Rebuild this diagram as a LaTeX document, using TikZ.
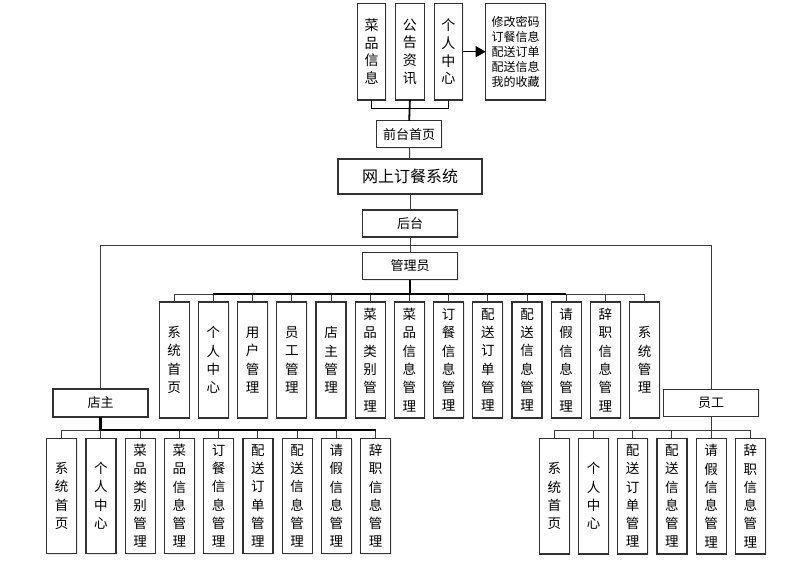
\documentclass[tikz,border=0pt]{standalone}
\usepackage{fontspec}
\newfontfamily\cjk{Noto Sans CJK SC}
\usetikzlibrary{arrows.meta,positioning,shadows}
\definecolor{ocBorder}{RGB}{ 50, 50, 50}
\definecolor{ocLine}  {RGB}{ 60, 60, 60}
\definecolor{ocDark}  {RGB}{  5,  5,  5}

\begin{document}
\begin{tikzpicture}[x=1pt,y=-1pt,
    every node/.style={font=\cjk},
    box/.style={rectangle,draw=ocBorder,line width=1.2pt,fill=white,
                inner sep=0pt,outer sep=0pt,align=center,
                drop shadow={opacity=0.15,shadow xshift=1.2pt,shadow yshift=-1.2pt}},
    vcell/.style={box,minimum width=30pt,minimum height=116pt,
                  font=\cjk\fontsize{13.5}{18.3}\selectfont},
    topcell/.style={vcell,minimum width=28.4pt,minimum height=96.7pt,
                  font=\cjk\fontsize{14}{17.7}\selectfont},
    hcell/.style={box,minimum width=95pt,minimum height=27pt,
                  font=\cjk\fontsize{13}{16}\selectfont},
    link/.style={draw=ocLine,line width=1pt},
    trunk/.style={draw=ocDark,line width=2.2pt},
    arr/.style={ocDark,line width=1.3pt,-{Triangle[length=10pt,width=11pt]}}
  ]
  \useasboundingbox (0,0) rectangle (806,562);
  % Front end
  \node[topcell] (cpxx) at (371.5,51.7) {菜\\品\\信\\息};
  \node[topcell,right=10pt of cpxx] (ggzx) {公\\告\\资\\讯};
  \node[topcell,right=10pt of ggzx] (grzx) {个\\人\\中\\心};
  \node[box,minimum width=60pt,minimum height=96.7pt,
        font=\cjk\fontsize{12}{15}\selectfont] (grzxsub) at (515.7,51.7)
        {修改密码\\订餐信息\\配送订单\\配送信息\\我的收藏};
  \node[hcell,minimum width=65pt] (qtsy) at (409.2,134.2) {前台首页};
  % System and back end
  \node[hcell,minimum width=144pt,minimum height=35pt,
        font=\cjk\fontsize{16}{18}\selectfont] (sys) at (410,176.5) {网上订餐系统};
  \node[hcell] (ht) at (410,223.5) {后台};
  \node[hcell] (gly) at (410,266) {管理员};
  \node[hcell,minimum height=28pt] (dz) at (100.5,403) {店主};
  \node[hcell] (yg) at (711,402.7) {员工};
  % Admin modules
  \node[vcell] (a1) at (174.2,360) {系\\统\\首\\页};
  \node[vcell,right=9.2pt of a1] (a2) {个\\人\\中\\心};
  \node[vcell,right=9.2pt of a2] (a3) {用\\户\\管\\理};
  \node[vcell,right=9.2pt of a3] (a4) {员\\工\\管\\理};
  \node[vcell,right=9.2pt of a4] (a5) {店\\主\\管\\理};
  \node[vcell,right=9.2pt of a5] (a6) {菜\\品\\类\\别\\管\\理};
  \node[vcell,right=9.2pt of a6] (a7) {菜\\品\\信\\息\\管\\理};
  \node[vcell,right=9.2pt of a7] (a8) {订\\餐\\信\\息\\管\\理};
  \node[vcell,right=9.2pt of a8] (a9) {配\\送\\订\\单\\管\\理};
  \node[vcell,right=9.2pt of a9] (a10) {配\\送\\信\\息\\管\\理};
  \node[vcell,right=9.2pt of a10] (a11) {请\\假\\信\\息\\管\\理};
  \node[vcell,right=9.2pt of a11] (a12) {辞\\职\\信\\息\\管\\理};
  \node[vcell,right=9.2pt of a12] (a13) {系\\统\\管\\理};
  % Shop owner modules
  \node[vcell,minimum height=115pt] (d1) at (61.7,495.8) {系\\统\\首\\页};
  \node[vcell,minimum height=115pt,right=9.25pt of d1] (d2) {个\\人\\中\\心};
  \node[vcell,minimum height=115pt,right=9.25pt of d2] (d3) {菜\\品\\类\\别\\管\\理};
  \node[vcell,minimum height=115pt,right=9.25pt of d3] (d4) {菜\\品\\信\\息\\管\\理};
  \node[vcell,minimum height=115pt,right=9.25pt of d4] (d5) {订\\餐\\信\\息\\管\\理};
  \node[vcell,minimum height=115pt,right=9.25pt of d5] (d6) {配\\送\\订\\单\\管\\理};
  \node[vcell,minimum height=115pt,right=9.25pt of d6] (d7) {配\\送\\信\\息\\管\\理};
  \node[vcell,minimum height=115pt,right=9.25pt of d7] (d8) {请\\假\\信\\息\\管\\理};
  \node[vcell,minimum height=115pt,right=9.25pt of d8] (d9) {辞\\职\\信\\息\\管\\理};
  % Staff modules
  \node[vcell,minimum height=115.7pt] (e1) at (554.3,496.1) {系\\统\\首\\页};
  \node[vcell,minimum height=115.7pt,right=9.2pt of e1] (e2) {个\\人\\中\\心};
  \node[vcell,minimum height=115.7pt,right=9.2pt of e2] (e3) {配\\送\\订\\单\\管\\理};
  \node[vcell,minimum height=115.7pt,right=9.2pt of e3] (e4) {配\\送\\信\\息\\管\\理};
  \node[vcell,minimum height=115.7pt,right=9.2pt of e4] (e5) {请\\假\\信\\息\\管\\理};
  \node[vcell,minimum height=115.7pt,right=9.2pt of e5] (e6) {辞\\职\\信\\息\\管\\理};
  % Front end links
  \draw[link,draw=ocDark] (qtsy.north) -- ++(0,-12.4) -| (cpxx.south);
  \draw[link,draw=ocDark] (qtsy.north) -- ++(0,-12.4) -| (grzx.south);
  \draw[trunk,line width=1.8pt] (qtsy.north) -- (ggzx.south);
  \draw[arr] (grzx) -- (grzxsub);
  \draw[link] (qtsy) -- (sys);
  \draw[link] (sys) -- (ht);
  % Back end links
  \draw[link] (ht) -- (gly);
  \draw[link] (ht.south) -- ++(0,8.3) -| (dz.north);
  \draw[link] (ht.south) -- ++(0,8.3) -| (yg.north);
  \draw[link] (gly.south) -- ++(0,14.5) -| (a1.north);
  \draw[link] (gly.south) -- ++(0,14.5) -| (a2.north);
  \draw[link] (gly.south) -- ++(0,14.5) -| (a3.north);
  \draw[link] (gly.south) -- ++(0,14.5) -| (a4.north);
  \draw[link] (gly.south) -- ++(0,14.5) -| (a5.north);
  \draw[link] (gly.south) -- ++(0,14.5) -| (a6.north);
  \draw[link] (gly.south) -- ++(0,14.5) -| (a7.north);
  \draw[link] (gly.south) -- ++(0,14.5) -| (a8.north);
  \draw[link] (gly.south) -- ++(0,14.5) -| (a9.north);
  \draw[link] (gly.south) -- ++(0,14.5) -| (a10.north);
  \draw[link] (gly.south) -- ++(0,14.5) -| (a11.north);
  \draw[link] (gly.south) -- ++(0,14.5) -| (a12.north);
  \draw[link] (gly.south) -- ++(0,14.5) -| (a13.north);
  \draw[link] (dz.south) -- ++(0,13) -| (d1.north);
  \draw[link] (dz.south) -- ++(0,13) -| (d2.north);
  \draw[link] (dz.south) -- ++(0,13) -| (d3.north);
  \draw[link] (dz.south) -- ++(0,13) -| (d4.north);
  \draw[link] (dz.south) -- ++(0,13) -| (d5.north);
  \draw[link] (dz.south) -- ++(0,13) -| (d6.north);
  \draw[link] (dz.south) -- ++(0,13) -| (d7.north);
  \draw[link] (dz.south) -- ++(0,13) -| (d8.north);
  \draw[link] (dz.south) -- ++(0,13) -| (d9.north);
  \draw[link] (yg.south) -- ++(0,14) -| (e1.north);
  \draw[link] (yg.south) -- ++(0,14) -| (e2.north);
  \draw[link] (yg.south) -- ++(0,14) -| (e3.north);
  \draw[link] (yg.south) -- ++(0,14) -| (e4.north);
  \draw[link] (yg.south) -- ++(0,14) -| (e5.north);
  \draw[link] (yg.south) -- ++(0,14) -| (e6.north);
  % Heavy buses
  \path (gly.south) ++(0,14.5) coordinate (gbus);
  \draw[trunk] (gly.south) -- (gbus);
  \draw[trunk] (gbus -| a2.north) -- (gbus -| a11.north);
  \path (dz.south) ++(0,13) coordinate (dbus);
  \draw[trunk] (dz.south) -- (dbus) -- (dbus -| d9.north);
\end{tikzpicture}
\end{document}
